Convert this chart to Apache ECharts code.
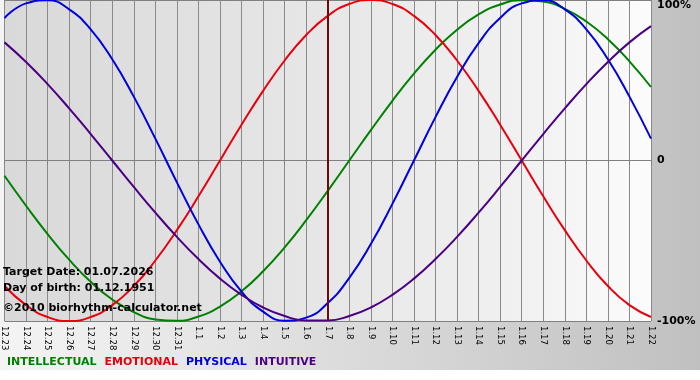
<!DOCTYPE html>
<html>
<head>
<meta charset="utf-8">
<script src="https://cdn.jsdelivr.net/npm/echarts@6/dist/echarts.min.js"></script>
<style>
html,body{margin:0;padding:0;background:#ffffff;}
#chart{width:700px;height:370px;}
</style>
</head>
<body>
<div id="chart"></div>
<script>
var days = ['12.23','12.24','12.25','12.26','12.27','12.28','12.29','12.30','12.31',
  '1.1','1.2','1.3','1.4','1.5','1.6','1.7','1.8','1.9','1.10','1.11','1.12','1.13',
  '1.14','1.15','1.16','1.17','1.18','1.19','1.20','1.21','1.22'];
var intellectual = [-9.5,-28.2,-45.8,-61.8,-75.6,-86.6,-94.5,-99.0,-99.9,-97.2,-91.0,-81.5,-69.0,-54.1,-37.2,-18.9,0,18.9,37.2,54.1,69.0,81.5,91.0,97.2,99.9,99.0,94.5,86.6,75.6,61.8,45.8];
var emotional = [-78.2,-90.1,-97.5,-100,-97.5,-90.1,-78.2,-62.3,-43.4,-22.3,0,22.3,43.4,62.3,78.2,90.1,97.5,100,97.5,90.1,78.2,62.3,43.4,22.3,0,-22.3,-43.4,-62.3,-78.2,-90.1,-97.5];
var physical = [88.8,97.9,99.8,94.2,81.7,63.1,39.8,13.6,-13.6,-39.8,-63.1,-81.7,-94.2,-99.8,-97.9,-88.8,-73.1,-52.0,-27.0,0,27.0,52.0,73.1,88.8,97.9,99.8,94.2,81.7,63.1,39.8,13.6];
var intuitive = [73.6,61.4,47.6,32.5,16.5,0,-16.5,-32.5,-47.6,-61.4,-73.6,-83.7,-91.6,-96.9,-99.7,-99.7,-96.9,-91.6,-83.7,-73.6,-61.4,-47.6,-32.5,-16.5,0,16.5,32.5,47.6,61.4,73.6,83.7];
var targetDay = '1.7';
var yTicks = {'100':'100%','0':'0','-100':'-100%'};
var infoLines = ['Target Date: 01.07.2026','Day of birth: 01.12.1951','\u00a92010 biorhythm-calculator.net'];

var chart = echarts.init(document.getElementById('chart'), null, {renderer:'canvas'});
var font = 'DejaVu Sans, Verdana, sans-serif';
function line(name, data, color){
  return {name:name, type:'line', data:data, smooth:true, symbol:'none',
    lineStyle:{color:color, width:2}, itemStyle:{color:color}};
}
var series = [
  line('INTELLECTUAL', intellectual, '#008000'),
  line('EMOTIONAL', emotional, '#e8000c'),
  line('PHYSICAL', physical, '#0000dd'),
  line('INTUITIVE', intuitive, '#4b0082')
];
series[3].markLine = {silent:true, symbol:'none', label:{show:false},
  lineStyle:{color:'#6e0a0a', width:2, type:'solid'}, data:[{xAxis:targetDay}]};

chart.setOption({
  animation:false,
  backgroundColor:{type:'linear', x:0, y:0, x2:1, y2:0,
    colorStops:[{offset:0,color:'#f4f4f4'},{offset:0.6,color:'#d6d6d6'},{offset:1,color:'#c0c0c0'}]},
  grid:{left:0, right:49, top:0, height:321, show:true, borderWidth:0,
    backgroundColor:{type:'linear', x:0, y:0, x2:1, y2:0,
      colorStops:[{offset:0,color:'#d9d9d9'},{offset:0.5,color:'#e7e7e7'},{offset:0.8,color:'#f1f1f1'},{offset:1,color:'#fcfcfc'}]}},
  legend:{left:2, top:357, icon:'none', itemWidth:0, itemHeight:0, itemGap:3, padding:0,
    selectedMode:false,
    textStyle:{fontFamily:font, fontWeight:'bold', fontSize:11},
    data:[
      {name:'INTELLECTUAL', textStyle:{color:'#008000'}},
      {name:'EMOTIONAL', textStyle:{color:'#e8000c'}},
      {name:'PHYSICAL', textStyle:{color:'#0000dd'}},
      {name:'INTUITIVE', textStyle:{color:'#4b0082'}}
    ]},
  xAxis:{type:'category', data:days, boundaryGap:false,
    axisLine:{show:true, lineStyle:{color:'#808080', width:1}},
    axisTick:{show:true, interval:0, length:4, lineStyle:{color:'#808080'}},
    splitLine:{show:true, interval:0, lineStyle:{color:'#8a8a8a', width:1}},
    axisLabel:{interval:0, rotate:-90, margin:5, fontFamily:font, fontSize:8.5, color:'#000'}},
  yAxis:{type:'value', position:'right', min:-100, max:100, interval:100,
    axisLine:{show:false}, axisTick:{show:false},
    splitLine:{show:true, lineStyle:{color:'#808080', width:1}},
    axisLabel:{margin:6, fontFamily:font, fontWeight:'bold', fontSize:11, color:'#000',
      verticalAlignMaxLabel:'top',
      formatter:function(v){return yTicks[String(v)] || '';}}},
  graphic:infoLines.map(function(t,i){
    return {type:'text', left:3, top:[267,283,303][i], z:100, silent:true,
      style:{text:t, fill:'#000', font:'bold 11px DejaVu Sans, Verdana, sans-serif'}};
  }),
  series:series
});
</script>
</body>
</html>
